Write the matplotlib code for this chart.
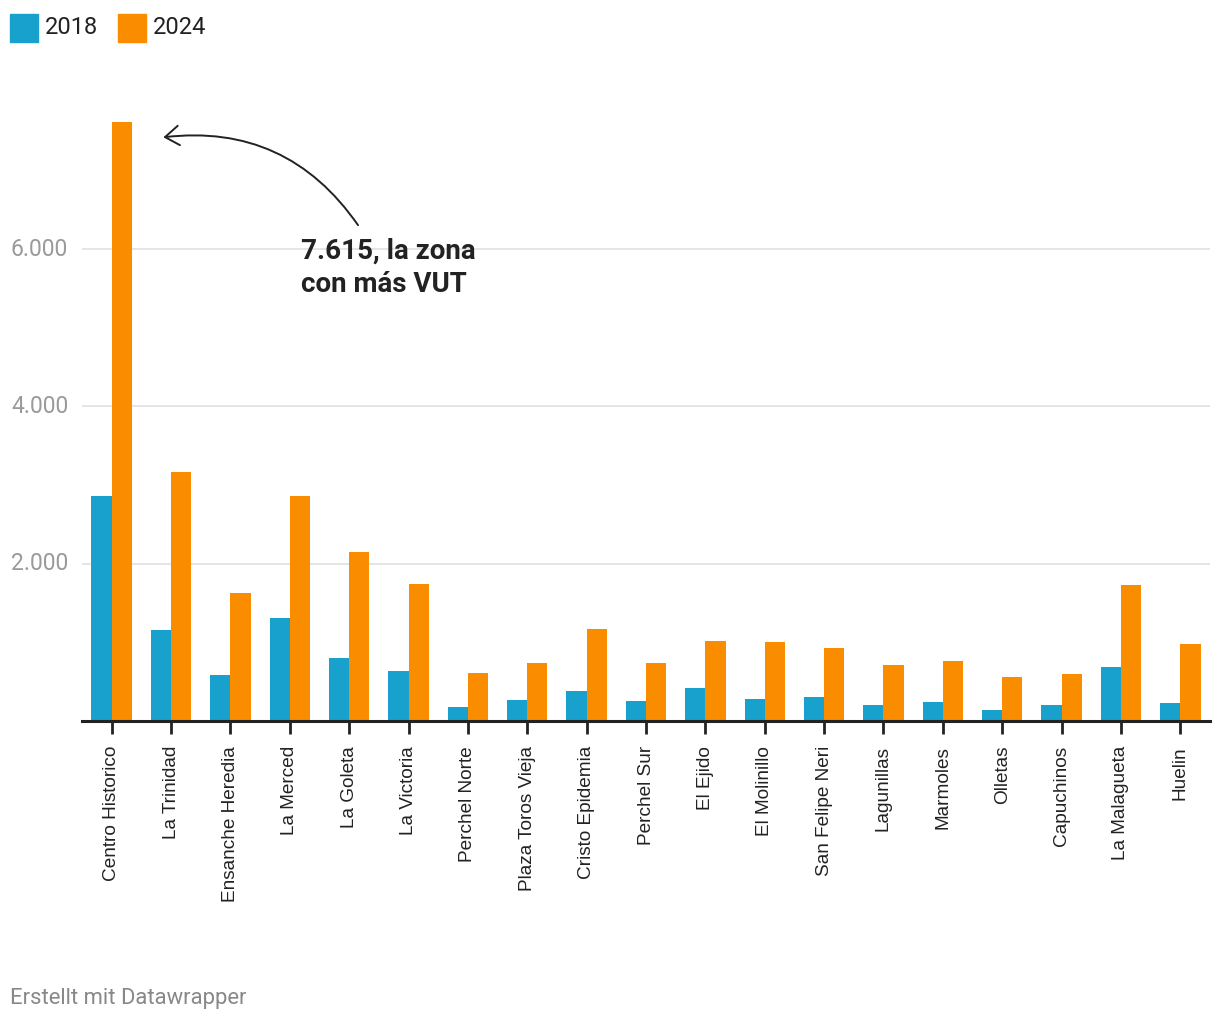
import matplotlib
matplotlib.use("Agg")
import matplotlib.pyplot as plt
import matplotlib.transforms as mtransforms
import numpy as np

categories = ["Centro Historico", "La Trinidad", "Ensanche Heredia", "La Merced", "La Goleta",
              "La Victoria", "Perchel Norte", "Plaza Toros Vieja", "Cristo Epidemia", "Perchel Sur",
              "El Ejido", "El Molinillo", "San Felipe Neri", "Lagunillas", "Marmoles",
              "Olletas", "Capuchinos", "La Malagueta", "Huelin"]
v2018 = [2860, 1160, 585, 1310, 800, 635, 180, 265, 385, 255,
         420, 280, 305, 205, 245, 140, 205, 690, 230]
v2024 = [7615, 3165, 1625, 2860, 2150, 1745, 610, 740, 1170, 740,
         1020, 1005, 930, 715, 765, 560, 600, 1735, 980]
series_names = ["2018", "2024"]
yticks = [2000, 4000, 6000]
ytick_labels = ["2.000", "4.000", "6.000"]

C18 = "#18a1cd"
C24 = "#fa8c00"

W, H = 1220, 1022
fig = plt.figure(figsize=(W / 100, H / 100), dpi=100)
ax = fig.add_axes([82 / W, (H - 721) / H, 1128 / W, 629 / H])

x = np.arange(len(categories))
bw = 0.34
ax.bar(x - bw / 2, v2018, width=bw, color=C18, zorder=3, linewidth=0)
ax.bar(x + bw / 2, v2024, width=bw, color=C24, zorder=3, linewidth=0)

ax.set_xlim(-0.5, len(categories) - 0.5)
ax.set_ylim(0, 8000)

ax.set_yticks(yticks)
ax.set_yticklabels([])
ax.grid(axis="y", color="#e5e5e5", linewidth=1.4, zorder=0)
ax.tick_params(axis="y", length=0)

trans = mtransforms.blended_transform_factory(fig.transFigure, ax.transData)
for v, t in zip(yticks, ytick_labels):
    ax.text(11 / W, v, t, transform=trans, fontfamily="Roboto", fontsize=16.5,
            color="#9a9a9a", ha="left", va="center", clip_on=False)

ax.set_xticks(x)
ax.set_xticklabels(categories, rotation=90, fontfamily="Liberation Sans", fontsize=13.7, color="#222222")
ax.tick_params(axis="x", length=9, width=2, color="#222222", pad=9, direction="out")

for s in ["top", "right", "left"]:
    ax.spines[s].set_visible(False)
ax.spines["bottom"].set_color("#222222")
ax.spines["bottom"].set_linewidth(2.2)
ax.spines["bottom"].set_zorder(4)

# annotation
ax.annotate("", xy=(0.87, 7424), xytext=(4.15, 6306),
            arrowprops=dict(arrowstyle="->,head_length=0.5,head_width=0.35", connectionstyle="arc3,rad=0.3",
                            lw=1.4, color="#222222", shrinkA=0, shrinkB=0, mutation_scale=20),
            zorder=5)
ax.text(3.19, 6150, "7.615, la zona\ncon más VUT", fontfamily="Roboto", fontweight="bold",
        fontsize=20, color="#222222", va="top", ha="left", linespacing=1.3, zorder=5)

# legend
lx = [10, 118]
for i, (name, c) in enumerate(zip(series_names, [C18, C24])):
    fig.patches.append(plt.Rectangle((lx[i] / W, (H - 42) / H), 28 / W, 28 / H,
                                     transform=fig.transFigure, color=c, figure=fig))
    fig.text((lx[i] + 35) / W, (H - 27) / H, name, fontfamily="Roboto", fontsize=17,
             color="#222222", va="center", ha="left")

fig.text(10 / W, (H - 998) / H, "Erstellt mit Datawrapper", fontfamily="Roboto", fontsize=15.8,
         color="#888888", va="center", ha="left")

fig.savefig("out.png", dpi=100, facecolor="white")
